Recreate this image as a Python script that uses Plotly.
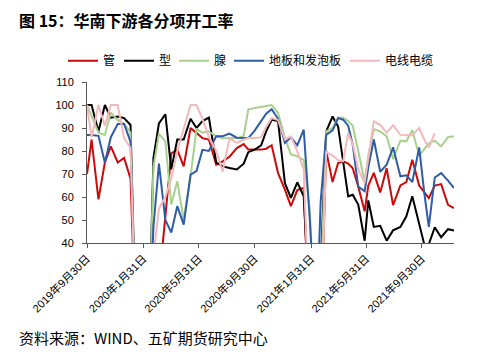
import plotly.graph_objects as go

dates = ["2019-09-30","2019-10-10","2019-10-25","2019-11-08","2019-11-21","2019-12-06","2019-12-20","2020-01-03",
         "2020-01-15","2020-01-30","2020-02-12",
         "2020-02-22","2020-03-05","2020-03-19","2020-04-01","2020-04-14","2020-04-28","2020-05-13","2020-05-26",
         "2020-06-08","2020-06-22","2020-07-08","2020-07-22","2020-08-06","2020-08-22","2020-09-06","2020-09-16",
         "2020-09-30","2020-10-14","2020-10-25","2020-11-06","2020-11-20","2020-12-05","2020-12-18","2021-01-01","2021-01-15",
         "2021-01-28","2021-02-11","2021-02-21",
         "2021-03-05","2021-03-19","2021-03-31","2021-04-11","2021-04-22","2021-05-02","2021-05-14","2021-05-28",
         "2021-06-05","2021-06-17","2021-07-01","2021-07-15","2021-07-29","2021-08-14","2021-08-27","2021-09-09",
         "2021-09-24","2021-10-05","2021-10-15","2021-10-28","2021-11-11","2021-11-26","2021-12-09"]

guan = [70, 85, 59, 75, 82, 75, 77, 68,
        0, 0, 0,
        0, 22, 53, 79, 80.6, 73.3, 90, 88, 85.6, 85, 74, 75.5, 77.5, 81.3, 83, 80.6, 80.6, 80.6, 81, 82.5, 70.4, 63.2, 56, 63, 64,
        0, 0, 0,
        80, 66.5, 74.8, 75.5, 74.5, 72.5, 64.6, 53.8, 65, 70.5, 62, 72.5, 56.5, 65, 66.5, 76.2, 65, 62, 59.5, 65, 65.6, 56.6, 55.2]

xing = [100, 100, 88.5, 100, 94.5, 95, 94.3, 91.3,
        0, 0, 0,
        77, 92, 96, 72, 85, 85, 94, 90, 93, 94.5, 75, 73.3, 72.6, 72, 74.5, 79.5, 80.6, 82.5, 88.5, 93.6, 93, 66, 59.6, 66.4, 60.3,
        10, 0, 30,
        88.5, 95, 90.7, 76, 60.3, 61, 56.7, 41, 58.5, 47, 47.5, 41, 45.5, 47, 51.6, 60.3, 47.5, 39.5, 39.5, 46.8, 42.5, 46, 45.4]

xian = [100, 95, 88, 87, 96.7, 93.4, 91.8, 88,
        0, 0, 0,
        73, 87.5, 84.2, 56.7, 66.8, 50, 69, 89.5, 88, 88.5, 86.4, 85.5, 85.6, 85.6, 86.5, 98, 98.7, 99.2, 99.5, 100, 96.5, 85.6, 78.5, 77.7, 76,
        55, 0, 20,
        88.5, 90, 94.6, 94.5, 93, 91, 80, 66.5, 78, 89.5, 88.5, 86.4, 76.5, 84.5, 84.2, 89, 78, 81, 83.3, 84.5, 82, 86, 86.4]

diban = [87, 87, 86.6, 75, 86, 91.7, 91.7, 84,
         0, 0, 0,
         47, 74.5, 50, 44.5, 56, 48, 69.7, 71.3, 80.5, 80, 86.4, 86.4, 87.6, 85.8, 85.6, 85.6, 88.9, 92.9, 96.2, 98.2, 94, 83.5, 86, 82.5, 89.3,
         51, 0, 58,
         87, 89, 94.3, 93.6, 91, 82.7, 64.5, 62.5, 73, 85, 71, 74, 81.6, 69, 69.4, 66.5, 81.6, 62, 47, 68.5, 70.4, 67.1, 63.9]

dianxian = [100, 86, 100, 91, 100, 100, 85.6, 81.3,
            0, 0, 0,
            35, 55, 60, 68, 80, 90, 100, 100, 94, 86, 80, 71, 85.5, 83.5, 85, 85.6, 85.6, 86, 90.5, 94.3, 93.5, 85, 86.4, 79.8, 71.9,
            0, 0, 0,
            79.5, 78, 76, 75.5, 87.8, 83, 72, 66, 77, 92.9, 91.4, 88, 91.2, 87, 86.8, 86.8, 90, 85, 81.5, 87.8, None, None, None]

series_names = ["管", "型", "腺", "地板和发泡板", "电线电缆"]
series_values = [guan, xing, xian, diban, dianxian]
series_colors = ["#CC0A0A", "#000000", "#A9D18E", "#2F5CA6", "#F4B9BC"]
legend_left_px = [63, 119, 174, 229, 345]

tick_dates = ["2019-09-30", "2020-01-31", "2020-05-31", "2020-09-30", "2021-01-31", "2021-05-31", "2021-09-30"]
tick_labels = ["2019年9月30日", "2020年1月31日", "2020年5月31日", "2020年9月30日",
               "2021年1月31日", "2021年5月31日", "2021年9月30日"]
y_ticks = [40, 50, 60, 70, 80, 90, 100, 110]

W, H = 488, 354
fig = go.Figure()
legend_layouts = {}
for i, (name, vals, col) in enumerate(zip(series_names, series_values, series_colors)):
    lg = "legend" if i == 0 else f"legend{i + 1}"
    fig.add_trace(go.Scatter(x=dates, y=vals, name=name, mode="lines", legend=lg,
                             line=dict(color=col, width=2), connectgaps=False))
    legend_layouts[lg] = dict(orientation="h", xref="container", yref="container",
                              x=legend_left_px[i] / W, y=1 - 60.7 / H,
                              xanchor="left", yanchor="middle",
                              font=dict(size=12, family="Noto Sans CJK SC, sans-serif", color="#000000"),
                              bgcolor="rgba(0,0,0,0)", itemwidth=30, borderwidth=0)

axis_col = "#595959"
base_font = "Liberation Sans, Noto Sans CJK SC, sans-serif"
fig.update_layout(
    width=W, height=H,
    margin=dict(l=87, r=34, t=82, b=111, autoexpand=False),
    paper_bgcolor="white", plot_bgcolor="white",
    font=dict(family=base_font, size=11, color="#000000"),
    showlegend=True,
    xaxis=dict(type="date", range=["2019-09-30", "2021-12-09"],
               tickvals=tick_dates, ticktext=tick_labels, tickangle=-45,
               showgrid=False, zeroline=False, showline=True, linecolor=axis_col, linewidth=1,
               ticks="outside", ticklen=4, tickcolor=axis_col,
               tickfont=dict(size=11, family=base_font)),
    yaxis=dict(range=[40, 110], tickvals=y_ticks, showgrid=False, zeroline=False,
               showline=True, linecolor=axis_col, linewidth=1,
               ticks="outside", ticklen=4, tickcolor=axis_col, ticklabelstandoff=6,
               tickfont=dict(size=11, family=base_font)),
    annotations=[
        dict(text="<b>图 15：华南下游各分项开工率</b>", xref="paper", yref="paper",
             x=(17 - 87) / 367, y=1 + (82 - 20.5) / 161, xanchor="left", yanchor="middle",
             showarrow=False, font=dict(size=16, family="Noto Sans CJK SC, sans-serif", color="#000000")),
        dict(text="资料来源：WIND、五矿期货研究中心", xref="paper", yref="paper",
             x=(17 - 87) / 367, y=-(337.5 - 243) / 161, xanchor="left", yanchor="middle",
             showarrow=False, font=dict(size=15, family="Noto Sans CJK SC, sans-serif", color="#000000")),
    ],
    **legend_layouts,
)

fig.write_html("out.html")
